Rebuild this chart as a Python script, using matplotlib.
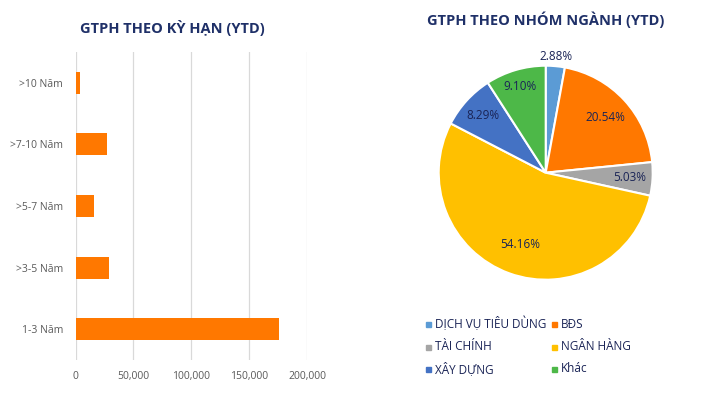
#!/usr/bin/env python3
# plot.py - GTPH theo kỳ hạn / nhóm ngành (YTD)

import numpy as np
import matplotlib
matplotlib.use("Agg", force=True)
import matplotlib.pyplot as plt
from matplotlib.ticker import FuncFormatter

plt.rcParams["font.family"] = ["Open Sans", "DejaVu Sans"]

# ─── DATA ──────────────────────────────────────────────────────────────────────
term_labels = [">10 Năm", ">7-10 Năm", ">5-7 Năm", ">3-5 Năm", "1-3 Năm"]
term_values = [3900, 27200, 16000, 29000, 175400]

sector_labels = ["DỊCH VỤ TIÊU DÙNG", "BĐS", "TÀI CHÍNH", "NGÂN HÀNG", "XÂY DỰNG", "Khác"]
sector_share  = [2.88, 20.54, 5.03, 54.16, 8.29, 9.10]
sector_colors = ["#5B9BD5", "#FF7800", "#A5A5A5", "#FFC000", "#4472C4", "#4DB848"]
label_dist    = [1.09, 0.76, 0.79, 0.71, 0.79, 0.84]

TITLE_C = "#1F3068"
TEXT_C  = "#1A2456"
TICK_C  = "#595959"

fig = plt.figure(figsize=(7.06, 3.98), dpi=100)
W, H = 706, 398


def box(x0, y0, x1, y1):
    # pixel box (top-left origin) -> figure fraction
    return [x0 / W, 1 - y1 / H, (x1 - x0) / W, (y1 - y0) / H]


# ─── 1) Bar chart ──────────────────────────────────────────────────────────────
ax = fig.add_axes(box(75.5, 52, 307, 360))
y = np.arange(len(term_labels))
ax.barh(y, term_values, height=0.36, color="#FF7800", zorder=3)
ax.set_ylim(len(term_labels) - 0.5, -0.5)
ax.set_xlim(0, 200000)
ax.set_xticks([0, 50000, 100000, 150000, 200000])
ax.xaxis.set_major_formatter(FuncFormatter(lambda v, p: f"{int(v):,}"))
ax.set_yticks(y)
ax.set_yticklabels(term_labels)
ax.grid(axis="x", color="#D9D9D9", linewidth=0.9, zorder=0)
for s in ax.spines.values():
    s.set_visible(False)
ax.tick_params(axis="both", length=0, labelsize=7.5, colors=TICK_C)
ax.tick_params(axis="x", pad=8)
ax.tick_params(axis="y", pad=9)

fig.text(172 / W, 1 - 28 / H, "GTPH THEO KỲ HẠN (YTD)", ha="center", va="center",
         fontsize=10.5, fontweight="bold", color=TITLE_C)

# ─── 2) Pie chart ──────────────────────────────────────────────────────────────
cx, cy, r = 545.7, 172.7, 107
pax = fig.add_axes(box(cx - r, cy - r, cx + r, cy + r))
wedges, _ = pax.pie(sector_share, colors=sector_colors, startangle=90,
                    counterclock=False, radius=1.0,
                    wedgeprops=dict(edgecolor="white", linewidth=1.5))
pax.set_xlim(-1, 1)
pax.set_ylim(-1, 1)
pax.set_aspect("equal")
pax.axis("off")

start = 0.0
for share, d in zip(sector_share, label_dist):
    mid = np.deg2rad((start + share / 2) / 100 * 360)
    pax.text(d * np.sin(mid), d * np.cos(mid), f"{share:.2f}%", ha="center",
             va="center", fontsize=8.5, color=TEXT_C, clip_on=False)
    start += share

fig.text(546 / W, 1 - 20 / H, "GTPH THEO NHÓM NGÀNH (YTD)", ha="center",
         va="center", fontsize=10.5, fontweight="bold", color=TITLE_C)

# legend, two columns, row by row
rows_y = [324, 347, 369]
cols_x = [428, 554]
for i, (lab, col) in enumerate(zip(sector_labels, sector_colors)):
    xm = cols_x[i % 2]
    ym = rows_y[i // 2]
    fig.patches.append(plt.Rectangle((xm / W - 2.5 / W, 1 - ym / H - 2.5 / H),
                                     5 / W, 5 / H, transform=fig.transFigure,
                                     color=col, figure=fig))
    fig.text((xm + 7) / W, 1 - ym / H, lab, ha="left", va="center",
             fontsize=8.5, color=TEXT_C)

plt.savefig("out.png", dpi=100)
plt.close()
